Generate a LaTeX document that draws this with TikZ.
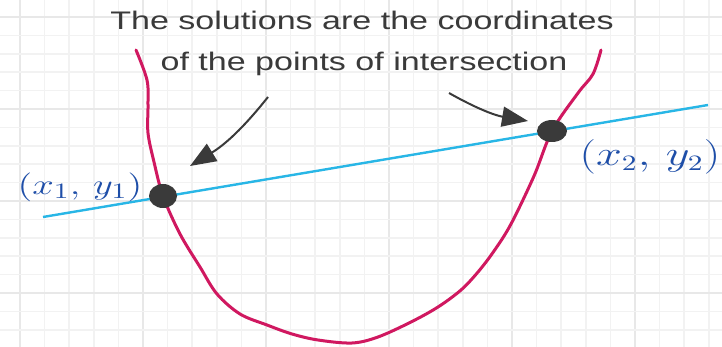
\documentclass[tikz,border=0pt]{standalone}
\usepackage{fontspec}
\usepackage{graphicx}
\usepackage{tikz}
\usetikzlibrary{arrows.meta, shapes.geometric, positioning}
\newfontfamily\notefont{Liberation Sans}
\newcommand{\stretchx}[1]{\scalebox{1.34}[1]{#1}}
\definecolor{gridminor}{RGB}{242, 242, 242}
\definecolor{gridmajor}{RGB}{232, 232, 232}
\definecolor{curvered}{RGB}{208, 24, 96}
\definecolor{lineblue}{RGB}{40, 182, 230}
\definecolor{inkgrey}{RGB}{58, 58, 58}
\definecolor{penblue}{RGB}{30, 78, 168}

\begin{document}
\begin{tikzpicture}[
    x=0.5pt, y=-0.5pt,
    note/.style={font=\notefont\fontsize{12.7}{15}\selectfont, text=inkgrey,
                 inner sep=0pt, anchor=base},
    dot/.style={ellipse, fill=inkgrey, minimum width=14pt, minimum height=12pt,
                inner sep=0pt},
    coordlabel/.style={text=penblue, font=\fontsize{16}{18}\selectfont, inner sep=0pt},
    arr/.style={-{Triangle[length=13pt, width=10pt]}, line width=1pt, color=inkgrey},
  ]
  \useasboundingbox (0,0) rectangle (722,347);
  \fill[white] (0,0) rectangle (722,347);
  % graph paper
  \foreach \i in {0,...,28} {
    \pgfmathtruncatemacro{\m}{mod(\i,5)}
    \ifnum\m=0 \def\gc{gridmajor}\else\def\gc{gridminor}\fi
    \draw[\gc, line width=0.8pt] (20+24.6*\i,0) -- (20+24.6*\i,347);
  }
  \foreach \j in {-15,...,2} {
    \pgfmathtruncatemacro{\m}{mod(\j+15,5)}
    \ifnum\m=0 \def\gc{gridmajor}\else\def\gc{gridminor}\fi
    \draw[\gc, line width=0.8pt] (0,293+18.4*\j) -- (722,293+18.4*\j);
  }

  % parabola and line
  \draw[curvered, line width=1.5pt, line cap=round] plot[smooth, tension=0.55] coordinates {
    (136,50) (147,80) (148,105) (148,133) (154,162) (163,196) (180,234) (200,267)
    (217,294) (240,314) (267,325) (292,334) (318,340) (352,343) (378,337) (411,322)
    (438,307) (461,290) (478,272) (494,251) (511,224) (534,176) (552,131) (578,93)
    (593,74) (601,50)};
  \coordinate (lA) at (43,217);
  \coordinate (lB) at (708,105);
  \draw[lineblue, line width=1.2pt] (lA) -- (lB);

  % points of intersection
  \node[dot] (p1) at (163,196) {};
  \node[dot, minimum width=15pt, minimum height=11pt] (p2) at (552,131) {};

  \node[coordlabel, font=\fontsize{15}{18}\selectfont] (c1) at (80,187) {\stretchx{$(x_1 ,\, y_1)$}};
  \node[coordlabel] (c2) at (650,157) {\stretchx{$(x_2 ,\, y_2)$}};

  % heading
  \node[note] (title1) at (362,30) {\stretchx{The solutions are the coordinates}};
  \node[note] (title2) at (364,71) {\stretchx{of the points of intersection}};

  % pointers
  \coordinate (a1) at (268,97);
  \coordinate (t1) at (190,166);
  \coordinate (a2) at (449,93);
  \coordinate (t2) at (528,121);
  \draw[arr] (a1) to[bend left=10] (t1);
  \draw[arr] (a2) to[bend right=10] (t2);
\end{tikzpicture}
\end{document}
